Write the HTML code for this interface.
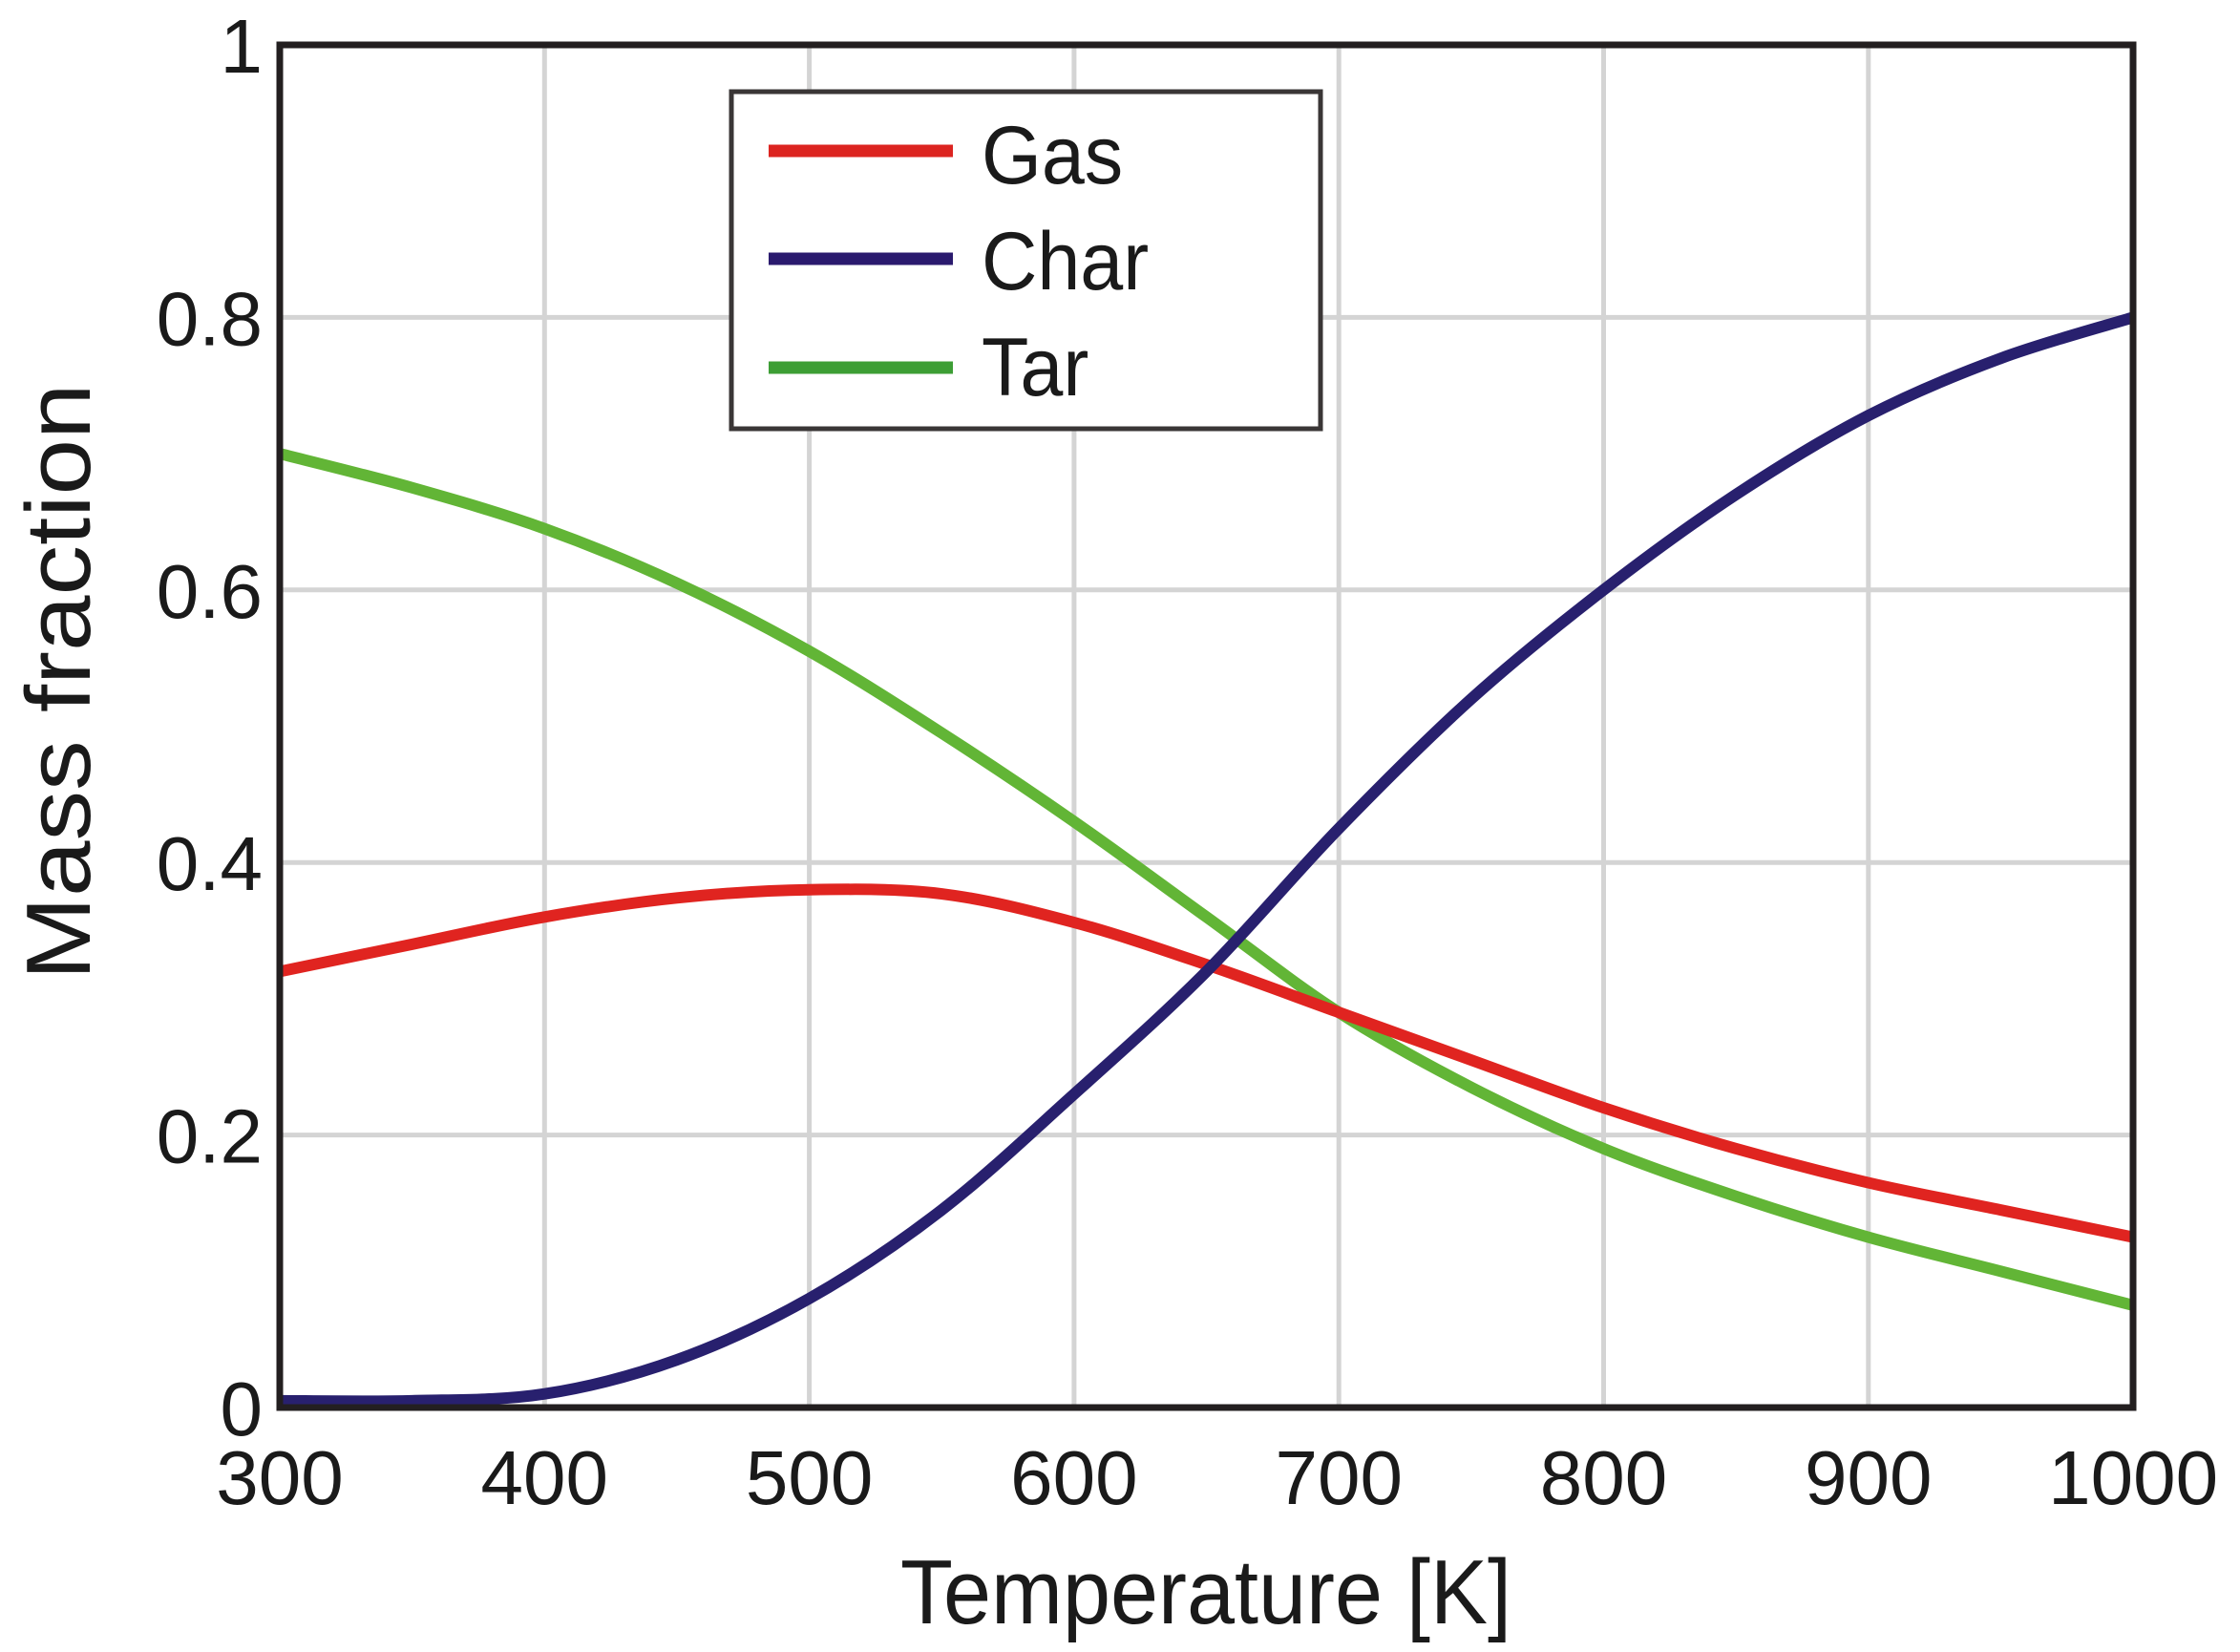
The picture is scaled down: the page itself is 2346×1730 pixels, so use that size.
<!DOCTYPE html>
<html><head><meta charset="utf-8"><style>
html,body{margin:0;padding:0;background:#fff;}
svg{display:block;font-family:"Liberation Sans",Arial,sans-serif;}
</style></head><body>
<svg id="s" width="2346" height="1730" viewBox="0 0 2346 1730" xmlns="http://www.w3.org/2000/svg">
<g id="grid" stroke="#d4d4d4" stroke-width="5"></g>
<g id="curves" fill="none" stroke-width="12" stroke-linejoin="round"></g>
<rect x="293" y="47" width="1941" height="1427" fill="none" stroke="#231f20" stroke-width="7"/>
<rect x="766" y="96" width="617" height="353" fill="#fff" stroke="#3a3636" stroke-width="5"/>
<line x1="805" y1="158" x2="998" y2="158" stroke="#dc2420" stroke-width="13"/>
<line x1="805" y1="271" x2="998" y2="271" stroke="#2a1a6e" stroke-width="13"/>
<line x1="805" y1="385" x2="998" y2="385" stroke="#3d9e35" stroke-width="13"/>
<g font-size="86" fill="#1a1a1a">
<text x="1028" y="192" transform="translate(1028,0) scale(0.94,1) translate(-1028,0)">Gas</text>
<text x="1028" y="303" transform="translate(1028,0) scale(0.94,1) translate(-1028,0)">Char</text>
<text x="1028" y="414" transform="translate(1028,0) scale(0.94,1) translate(-1028,0)">Tar</text>
</g>
<g id="labels" font-size="80" fill="#1a1a1a"></g>
<text x="1263" y="1700" font-size="96" text-anchor="middle" fill="#1a1a1a" textLength="640" lengthAdjust="spacingAndGlyphs">Temperature [K]</text>
<text transform="translate(94,714) rotate(-90)" font-size="96" text-anchor="middle" fill="#1a1a1a" textLength="625" lengthAdjust="spacingAndGlyphs">Mass fraction</text>
</svg>
<script>
var NS="http://www.w3.org/2000/svg";
function X(t){return 293+(t-300)*2.773;}
function Y(v){return 1474-v*1427;}
function el(p,tag,a,txt){var e=document.createElementNS(NS,tag);for(var k in a)e.setAttribute(k,a[k]);if(txt!=null)e.textContent=txt;p.appendChild(e);return e;}
var g=document.getElementById('grid'),lb=document.getElementById('labels'),cv=document.getElementById('curves');
for(var t=300;t<=1000;t+=100){el(g,'line',{x1:X(t),y1:47,x2:X(t),y2:1474});el(lb,'text',{x:X(t),y:1575,'text-anchor':'middle'},String(t));}
var yl=['0','0.2','0.4','0.6','0.8','1'];
for(var i=0;i<=5;i++){var v=i*0.2;el(g,'line',{x1:293,y1:Y(v),x2:2234,y2:Y(v)});el(lb,'text',{x:275,y:Y(v)+29,'text-anchor':'end'},yl[i]);}
var T=[300,350,400,450,500,550,600,650,700,750,800,850,900,950,1000];
var data={
"#e02420":[0.32,0.34,0.36,0.374,0.38,0.377,0.356,0.325,0.29,0.255,0.22,0.19,0.165,0.145,0.125],
"#28206e":[0.005,0.005,0.01,0.035,0.08,0.145,0.23,0.32,0.425,0.52,0.6,0.67,0.728,0.77,0.8],
"#62b536":[0.70,0.675,0.645,0.605,0.555,0.495,0.43,0.36,0.29,0.235,0.19,0.155,0.125,0.1,0.075]};
var order=["#62b536","#e02420","#28206e"];
order.forEach(function(c){var v=data[c];var P=T.map(function(t,i){return [X(t),Y(v[i])];});
var d="M"+P[0][0]+","+P[0][1];
for(var i=0;i<P.length-1;i++){var p0=P[Math.max(i-1,0)],p1=P[i],p2=P[i+1],p3=P[Math.min(i+2,P.length-1)];
d+=" C"+(p1[0]+(p2[0]-p0[0])/6)+","+(p1[1]+(p2[1]-p0[1])/6)+" "+(p2[0]-(p3[0]-p1[0])/6)+","+(p2[1]-(p3[1]-p1[1])/6)+" "+p2[0]+","+p2[1];}
el(cv,'path',{d:d,stroke:c});});
</script>
</body></html>
